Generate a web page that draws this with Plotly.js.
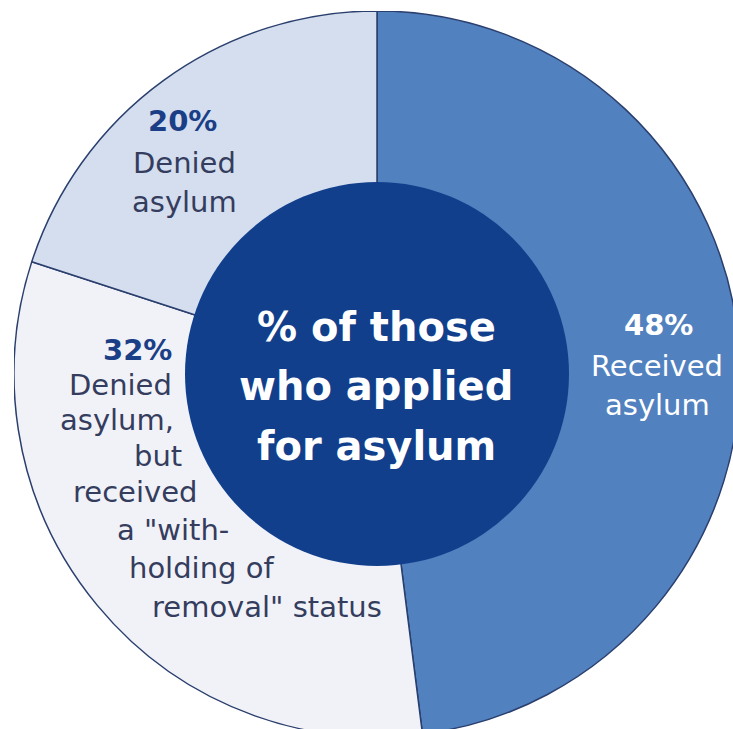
<!DOCTYPE html>
<html>
<head>
<meta charset="utf-8">
<script src="https://cdn.plot.ly/plotly-3.0.1.min.js"></script>
<style>
  html, body { margin: 0; padding: 0; width: 733px; height: 729px; overflow: hidden; background: #ffffff; }
  #chart { position: absolute; left: 14px; top: 11px; width: 726px; height: 726px; }
</style>
</head>
<body>
<div id="chart"></div>
<script>
// ---- data ----
const categories = ["Received asylum", "Denied asylum, but received a \"with-holding of removal\" status", "Denied asylum"];
const values = [48, 32, 20];
const sliceColors = ["#5281bf", "#f1f2f8", "#d4deee"];
const centerLines = ["% of those", "who applied", "for asylum"];
const labelLines48 = ["Received", "asylum"];
const labelLines32 = ["Denied", "asylum,", "but", "received", "a \"with-", "holding of", "removal\" status"];
const labelLines20 = ["Denied", "asylum"];

// ---- geometry helpers (image pixel -> paper coords of the chart div) ----
const OX = 14, OY = 11, S = 726;
const px = x => (x - OX) / S;
const py = y => 1 - (y - OY) / S;

const FONT = "'DejaVu Sans', sans-serif";
const dark = "#1b3f86";
const grey = "#353d5e";
const LS = 29;

const annotations = [];
function add(text, x, y, opts) {
  annotations.push(Object.assign({
    text: text, x: px(x), y: py(y), xref: "paper", yref: "paper",
    showarrow: false, xanchor: "center", yanchor: "middle"
  }, opts));
}

// center text
const centerY = [327, 386, 446];
centerLines.forEach((t, i) => add(t, 376, centerY[i], {font: {family: FONT, size: 40, color: "#ffffff", weight: 700}}));

// 48% label
add(values[0] + "%", 658, 325, {font: {family: FONT, size: LS, color: "#ffffff", weight: 700}});
const y48 = [366, 405];
labelLines48.forEach((t, i) => add(t, 657, y48[i], {font: {family: FONT, size: LS, color: "#ffffff"}}));

// 20% label
add(values[2] + "%", 182, 121, {font: {family: FONT, size: LS, color: dark, weight: 700}});
const y20 = [163, 202];
labelLines20.forEach((t, i) => add(t, 184, y20[i], {font: {family: FONT, size: LS, color: grey}}));

// 32% label (right aligned following the hole)
add(values[1] + "%", 174, 350, {xanchor: "right", font: {family: FONT, size: LS, color: dark, weight: 700}});
const y32 = [385, 420, 456, 492, 530, 568, 607];
const r32 = [174, 176, 184, 199, 231, 276, 384];
labelLines32.forEach((t, i) => add(t, r32[i], y32[i], {xanchor: "right", font: {family: FONT, size: LS, color: grey}}));

const trace = {
  type: "pie",
  values: values,
  labels: categories,
  sort: false,
  direction: "clockwise",
  rotation: 0,
  hole: 0.5,
  textinfo: "none",
  hoverinfo: "label+percent",
  marker: {colors: sliceColors, line: {color: "#2a3f6e", width: 1.5}},
  domain: {x: [0, 1], y: [0, 1]},
  showlegend: false
};

const hr = 192 / 363; // dark center disc relative to outer radius
const layout = {
  width: S, height: S,
  margin: {l: 0, r: 0, t: 0, b: 0},
  paper_bgcolor: "rgba(0,0,0,0)",
  plot_bgcolor: "rgba(0,0,0,0)",
  showlegend: false,
  shapes: [{
    type: "circle", xref: "paper", yref: "paper",
    x0: 0.5 - hr / 2, x1: 0.5 + hr / 2, y0: 0.5 - hr / 2, y1: 0.5 + hr / 2,
    fillcolor: "#123f8c", line: {width: 0}, layer: "above"
  }],
  annotations: annotations
};

Plotly.newPlot("chart", [trace], layout, {displayModeBar: false, staticPlot: true});
</script>
</body>
</html>
